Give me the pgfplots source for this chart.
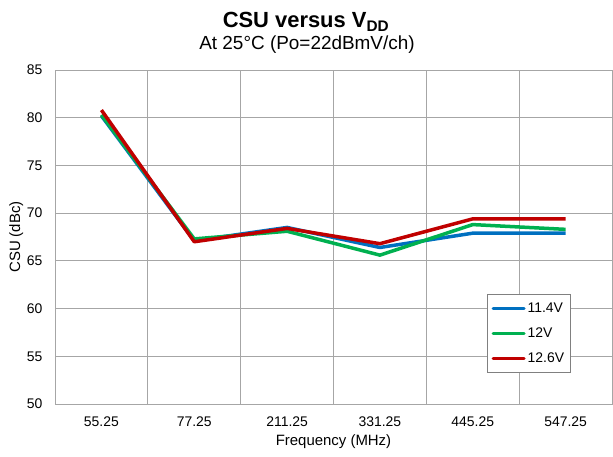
\documentclass[border=0pt]{standalone}
\usepackage{pgfplots}
\pgfplotsset{compat=1.18}
\usepackage{fontspec}
\setmainfont{Liberation Sans}
\definecolor{cblue}{HTML}{0070C0}
\definecolor{cgreen}{HTML}{00B050}
\definecolor{cred}{HTML}{C00000}
\begin{document}
\begin{tikzpicture}[x=1bp,y=1bp]
\path[use as bounding box] (0,0) rectangle (613,457);
\begin{axis}[
  at={(55bp,53bp)}, anchor=south west,
  scale only axis, width=557bp, height=334bp,
  xmin=-0.5, xmax=5.5, ymin=50, ymax=85,
  ytick={50,55,...,85},
  xtick={0,1,2,3,4,5},
  xticklabels={55.25,77.25,211.25,331.25,445.25,547.25},
  minor xtick={0.5,1.5,2.5,3.5,4.5},
  xminorgrids=true, ymajorgrids=true,
  grid style={gray!70, line width=0.8bp},
  minor grid style={gray!70, line width=0.8bp},
  axis line style={gray!70, line width=0.8bp},
  major tick length=0pt, minor tick length=0pt,
  /pgf/number format/assume math mode=true,
  tick label style={font=\fontsize{14}{16}\selectfont},
  yticklabel style={xshift=-9bp},
  xticklabel style={yshift=-9bp},
  xlabel={Frequency (MHz)}, ylabel={CSU (dBc)},
  label style={font=\fontsize{15}{17}\selectfont},
  xlabel style={yshift=-1bp},
  ylabel style={yshift=-3bp},
  legend style={at={(0.776,0.329)}, anchor=north west, draw=gray, line width=0.8bp,
    font=\fontsize{14}{16}\selectfont, row sep=10bp, inner xsep=4bp, inner ysep=6bp, cells={anchor=west}},
  legend image code/.code={\draw[#1, line width=3bp, line cap=round] (0bp,0bp) -- (31bp,0bp);},
  every axis plot/.append style={line width=3.5bp, line join=round},
]
\addplot[cblue] coordinates {(0,80.2) (1,67.1) (2,68.5) (3,66.4) (4,67.9) (5,67.9)};
\addlegendentry{11.4V}
\addplot[cgreen] coordinates {(0,80.3) (1,67.3) (2,68.1) (3,65.6) (4,68.8) (5,68.3)};
\addlegendentry{12V}
\addplot[cred] coordinates {(0,80.8) (1,67.0) (2,68.4) (3,66.8) (4,69.4) (5,69.4)};
\addlegendentry{12.6V}
\end{axis}
\node[font=\fontsize{22}{24}\selectfont\bfseries, anchor=base] at (306,429) {CSU versus V\textsubscript{DD}};
\node[font=\fontsize{19}{22}\selectfont, anchor=base] at (307,407) {At 25°C (Po=22dBmV/ch)};
\end{tikzpicture}
\end{document}
